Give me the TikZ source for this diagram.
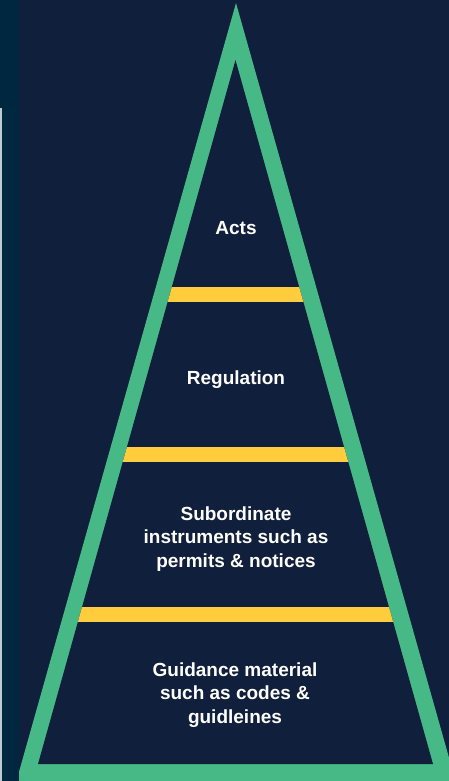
\documentclass[tikz,border=0pt]{standalone}
\usepackage{fontspec}
\setmainfont{Liberation Sans}
\definecolor{pagebg}{RGB}{16,31,60}
\definecolor{stripbg}{RGB}{0,39,64}
\definecolor{rimgreen}{RGB}{70,185,135}
\definecolor{baryellow}{RGB}{255,204,61}

\begin{document}
\begin{tikzpicture}[x=1pt, y=-1pt]

        % Styles
        \tikzstyle{tier} = [text=white, font=\bfseries\fontsize{19}{23.5}\selectfont, align=center, inner sep=0pt]
        \tikzstyle{divider} = [fill=baryellow]

        % Frame
        \useasboundingbox (0,0) rectangle (449,781);
        \clip (0,0) rectangle (449,781);
        \fill[pagebg] (0,0) rectangle (449,781);

        % Pyramid
        \fill[rimgreen] (236,3) -- (15,786) -- (457,786) -- cycle;
        \fill[pagebg] (235.5,60) -- (38,764) -- (433,764) -- cycle;
        \begin{scope}
          \clip (235.5,60) -- (38,764) -- (433,764) -- cycle;
          \foreach \y in {287,447,607}
            \fill[divider] (0,\y) rectangle (449,\y+15);
        \end{scope}

        % Left edge
        \fill[stripbg] (0,0) rectangle (19,781);
        \fill[white!75!stripbg] (0,108) rectangle (2,781);

        % Nodes
        \node[tier] (acts) at (236,228) {Acts};
        \node[tier] (regulation) at (236,380) {Regulation};
        \node[tier] (subordinate) at (236,539) {Subordinate\\instruments such as\\permits \& notices};
        \node[tier] (guidance) at (235,695) {Guidance material\\such as codes \&\\guidleines};

\end{tikzpicture}
\end{document}
